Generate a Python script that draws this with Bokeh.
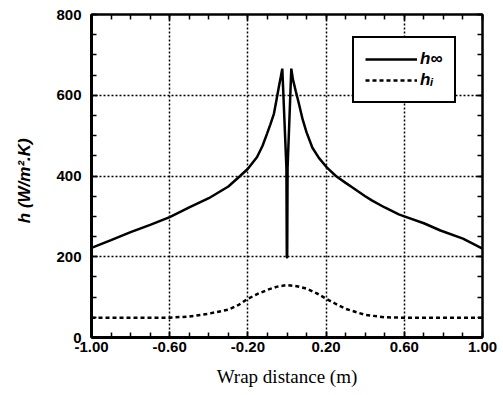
from bokeh.plotting import figure
from bokeh.models import (FixedTicker, LinearAxis, Range1d, Legend, LegendItem,
                          NumeralTickFormatter, CustomJSTickFormatter)
from bokeh.embed import file_html
from bokeh.resources import INLINE

# ---- data ----
x_inf = [-1.0, -0.9, -0.8, -0.7, -0.6, -0.5, -0.4, -0.3, -0.24, -0.2, -0.153,
         -0.125, -0.102, -0.085, -0.067, -0.055, -0.042, -0.032, -0.024,
         -0.003, -0.001, 0.001, 0.003,
         0.022, 0.03, 0.045, 0.061, 0.08, 0.1, 0.13, 0.163, 0.206, 0.25, 0.3,
         0.333, 0.4, 0.436, 0.5, 0.572, 0.6, 0.7, 0.785, 0.9, 1.0]
h_inf = [222, 241, 261, 279, 298, 322, 345, 374, 400, 418, 447,
         475, 505, 528, 554, 585, 620, 645, 666,
         420, 198, 198, 420,
         666, 640, 610, 579, 540, 508, 470, 445, 420, 400, 383,
         372, 350, 339, 322, 305, 300, 283, 265, 245, 220]

x_i = [-1.0, -0.6, -0.5, -0.4, -0.3, -0.25, -0.2, -0.15, -0.1, -0.05, 0.0,
       0.05, 0.1, 0.15, 0.2, 0.25, 0.3, 0.4, 0.5, 0.6, 1.0]
h_i = [49, 49, 52, 59, 69, 80, 96, 108, 118, 126, 130,
       127, 121, 110, 96, 83, 71, 56, 50, 49, 49]

x_major = [-1.0, -0.6, -0.2, 0.2, 0.6, 1.0]
x_minor = [round(-1.0 + 0.1 * k, 2) for k in range(21)]
y_major = [0, 200, 400, 600, 800]
y_minor = list(range(0, 801, 50))

FONT = "Liberation Sans"

p = figure(width=503, height=395, output_backend="svg", toolbar_location=None,
           x_range=Range1d(-1.0, 1.0), y_range=Range1d(0, 800),
           min_border_left=91, min_border_right=21, min_border_top=14,
           min_border_bottom=58, background_fill_color="white",
           border_fill_color="white")

p.outline_line_color = "black"
p.outline_line_width = 2

# grids
for g in (p.xgrid, p.ygrid):
    g.grid_line_color = "black"
    g.grid_line_dash = "2 2"
    g.grid_line_width = 1.5
p.xgrid.ticker = FixedTicker(ticks=x_major)
p.ygrid.ticker = FixedTicker(ticks=y_major)

# bottom / left axes
xa = p.xaxis[0]
ya = p.yaxis[0]
xa.ticker = FixedTicker(ticks=x_major, minor_ticks=x_minor)
ya.ticker = FixedTicker(ticks=y_major, minor_ticks=y_minor)
xa.formatter = NumeralTickFormatter(format="0.00")
for ax in (xa, ya):
    ax.axis_line_width = 3
    ax.axis_line_color = "black"
    ax.major_tick_in = 6
    ax.major_tick_out = 0
    ax.minor_tick_in = 5
    ax.minor_tick_out = 0
    ax.major_tick_line_width = 1.5
    ax.minor_tick_line_width = 1.5
    ax.major_tick_line_color = "black"
    ax.minor_tick_line_color = "black"
    ax.major_label_text_font = FONT
    ax.major_label_text_font_style = "bold"
    ax.major_label_text_font_size = "15px"
    ax.major_label_text_color = "black"
    ax.axis_label_text_color = "black"
xa.major_label_standoff = 4
ya.major_label_standoff = 10

xa.axis_label = "Wrap distance (m)"
xa.axis_label_text_font = "Liberation Serif"
xa.axis_label_text_font_style = "normal"
xa.axis_label_text_font_size = "19px"
xa.axis_label_standoff = 11

ya.axis_label = "h   (W/m².K)"
ya.axis_label_text_font = FONT
ya.axis_label_text_font_style = "bold italic"
ya.axis_label_text_font_size = "17px"
ya.axis_label_standoff = 19

# top / right axes with inside ticks only
blank = CustomJSTickFormatter(code="return '';")
for loc, tk in (("above", FixedTicker(ticks=x_major, minor_ticks=x_minor)),
                ("right", FixedTicker(ticks=y_major, minor_ticks=y_minor))):
    ax = LinearAxis(ticker=tk, formatter=blank)
    ax.axis_line_width = 2
    ax.axis_line_color = "black"
    ax.major_tick_in = 6
    ax.major_tick_out = 0
    ax.minor_tick_in = 5
    ax.minor_tick_out = 0
    ax.major_tick_line_width = 1.5
    ax.minor_tick_line_width = 1.5
    ax.major_tick_line_color = "black"
    ax.minor_tick_line_color = "black"
    ax.major_label_standoff = 0
    ax.major_label_text_font_size = "0px"
    p.add_layout(ax, loc)

r1 = p.line(x_inf, h_inf, line_color="black", line_width=2.5)
r2 = p.line(x_i, h_i, line_color="black", line_width=2.5, line_dash="4 3")

legend = Legend(items=[LegendItem(label="h∞", renderers=[r1]),
                       LegendItem(label="hᵢ", renderers=[r2])],
                location=(261, 234))
legend.border_line_color = "black"
legend.border_line_width = 2
legend.border_line_alpha = 1
legend.background_fill_color = "white"
legend.background_fill_alpha = 1
legend.label_text_font = FONT
legend.label_text_font_style = "bold italic"
legend.label_text_font_size = "17px"
legend.label_text_color = "black"
legend.glyph_width = 52
legend.glyph_height = 20
legend.label_height = 20
legend.label_standoff = 3
legend.padding = 11
legend.spacing = 1
legend.margin = 0
p.add_layout(legend, "center")

open("out.html", "w").write(file_html(p, INLINE))
